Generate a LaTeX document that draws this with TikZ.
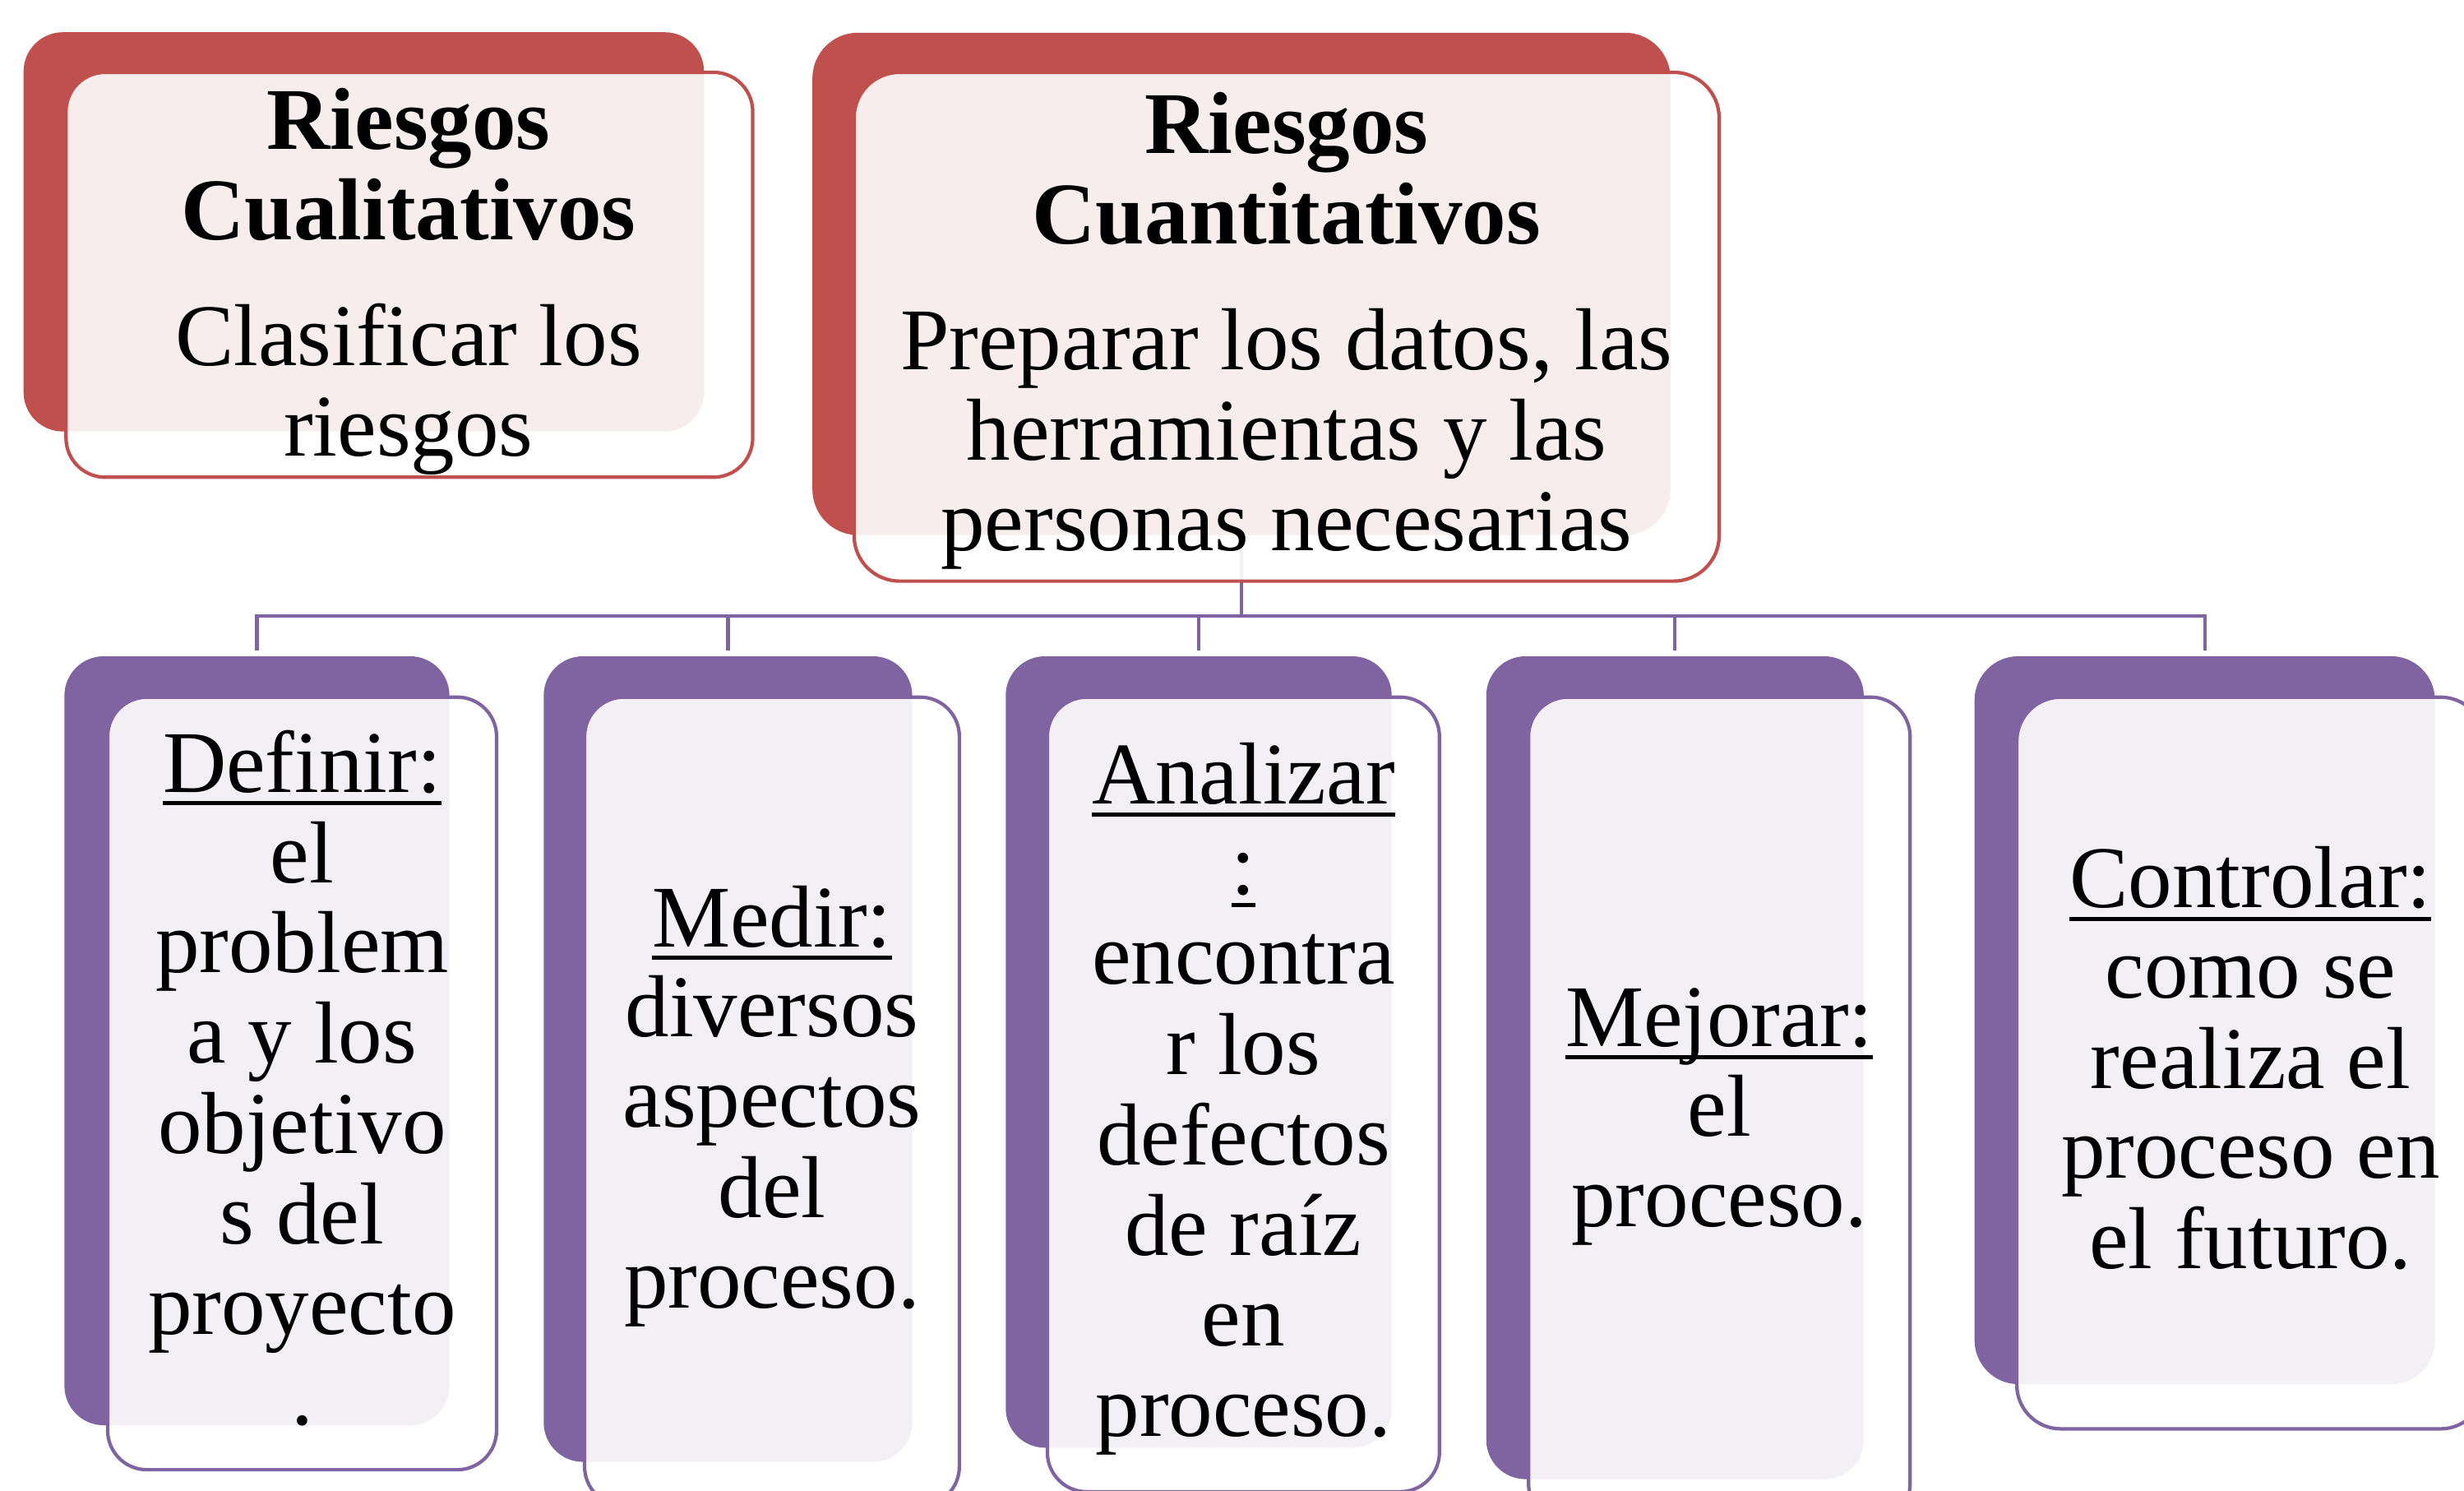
\documentclass[tikz,border=0pt]{standalone}
\usepackage{fontspec}
\setmainfont{Liberation Serif}
\definecolor{rojo}{HTML}{C0504D}
\definecolor{morado}{HTML}{8064A2}
\newsavebox\ulbox
\newcommand\ulin[1]{\sbox\ulbox{#1}\rlap{\rule[-8.5pt]{\wd\ulbox}{2.6pt}}\usebox\ulbox}
\newcommand\tstrut{\rule{0pt}{40pt}}
\tikzset{
  backR/.style={fill=rojo, rounded corners=25pt, inner sep=0pt, outer sep=0pt},
  frontR/.style={draw=rojo, line width=2.2pt, fill=white, fill opacity=0.9, rounded corners=25pt, inner sep=0pt, outer sep=0pt},
  backM/.style={fill=morado, rounded corners=25pt, inner sep=0pt, outer sep=0pt},
  frontM/.style={draw=morado, line width=2.2pt, fill=white, fill opacity=0.9, rounded corners=25pt, inner sep=0pt, outer sep=0pt},
  conn/.style={draw=morado, line width=2.2pt},
  txt/.style={anchor=north, align=center, inner sep=0pt, font=\fontsize{56}{57.5}\selectfont}
}
\begin{document}
\begin{tikzpicture}[x=1pt,y=1pt,yscale=-1,xscale=1]
\useasboundingbox (0,0) rectangle (1568,948.5);
\clip (0,0) rectangle (1568,948.5);

%Rounded Rect (back)
\node [backR, minimum width=433pt, minimum height=254pt] (qualBack) at (231.5,147.5) {};
%Rounded Rect (back)
\node [backR, minimum width=546pt, minimum height=319.6pt, rounded corners=29pt] (cuanBack) at (790,180.6) {};
%Rounded Rect (back)
\node [backM, minimum width=245pt, minimum height=489.2pt] (defBack) at (163.5,662.1) {};
%Rounded Rect (back)
\node [backM, minimum width=234.5pt, minimum height=512.5pt] (medBack) at (463.25,673.75) {};
%Rounded Rect (back)
\node [backM, minimum width=245.6pt, minimum height=503.5pt] (anaBack) at (762.8,669.25) {};
%Rounded Rect (back)
\node [backM, minimum width=240.2pt, minimum height=523.5pt] (mejBack) at (1065.9,679.25) {};
%Rounded Rect (back)
\node [backM, minimum width=293pt, minimum height=463.1pt, rounded corners=28pt] (conBack) at (1403,649) {};

%Connectors
\coordinate (hub) at (790,392);
\draw [conn] (cuanBack.south) -- (hub);
\foreach \b in {defBack,medBack,anaBack,mejBack,conBack}
  \draw [conn, shorten >=3.6pt] (hub) -| (\b.north);

%Rounded Rect (front)
\node [frontR, minimum width=437pt, minimum height=257.6pt] (qualFront) at (260.5,174.8) {};
%Rounded Rect (front)
\node [frontR, minimum width=550.5pt, minimum height=323.7pt, rounded corners=29pt] (cuanFront) at (818.75,207.85) {};
%Rounded Rect (front)
\node [frontM, minimum width=247.5pt, minimum height=491.5pt] (defFront) at (192.25,689.25) {};
%Rounded Rect (front)
\node [frontM, minimum width=238.5pt, minimum height=514.5pt] (medFront) at (491.25,700.75) {};
%Rounded Rect (front)
\node [frontM, minimum width=249.5pt, minimum height=505.5pt] (anaFront) at (791.25,696.25) {};
%Rounded Rect (front)
\node [frontM, minimum width=242.8pt, minimum height=525.5pt] (mejFront) at (1094.1,706.25) {};
%Rounded Rect (front)
\node [frontM, minimum width=297.6pt, minimum height=465.5pt, rounded corners=28pt] (conFront) at (1432.2,676.25) {};

% Text Node
\node [txt] (qualText) at (260,54.6) {\tstrut\textbf{Riesgos}\\ \textbf{Cualitativos}\\[22.6pt] Clasificar los\\ riesgos};
% Text Node
\node [txt] (cuanText) at (818.75,57.5) {\tstrut\textbf{Riesgos}\\ \textbf{Cuantitativos}\\[22.7pt] Preparar los datos, las\\ herramientas y las\\ personas necesarias};
% Text Node
\node [txt] (defText) at (192.25,463.7) {\tstrut\ulin{Definir:}\\ el\\ problem\\ a y los\\ objetivo\\ s del\\ proyecto\\ .};
% Text Node
\node [txt] (medText) at (491.25,562) {\tstrut\ulin{Medir:}\\ diversos\\ aspectos\\ del\\ proceso.};
% Text Node
\node [txt] (anaText) at (791.25,471) {\tstrut\ulin{Analizar}\\ \ulin{:}\\ encontra\\ r los\\ defectos\\ de raíz\\ en\\ proceso.};
% Text Node
\node [txt] (mejText) at (1094.1,625.3) {\tstrut\ulin{Mejorar:}\\ el\\ proceso.};
% Text Node
\node [txt] (conText) at (1432.2,537) {\tstrut\ulin{Controlar:}\\ como se\\ realiza el\\ proceso en\\ el futuro.};

\end{tikzpicture}
\end{document}
